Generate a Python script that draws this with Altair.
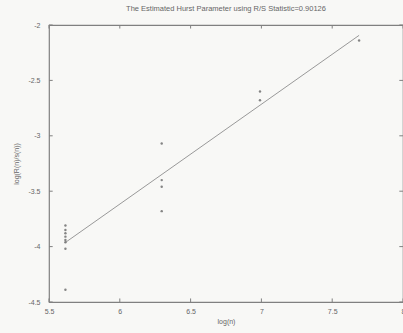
import altair as alt
import pandas as pd

# log(n) positions of the block sizes and the log(R(n)/s(n)) values measured at each
block_logn = [5.616, 6.296, 6.99, 7.69]
rs_block1 = [-3.81, -3.85, -3.88, -3.91, -3.94, -3.96, -4.02, -4.39]
rs_block2 = [-3.07, -3.40, -3.46, -3.68]
rs_block3 = [-2.60, -2.68]
rs_block4 = [-2.14]

# least-squares fit: slope is the Hurst estimate
hurst = 0.90126
intercept = -9.024

x_ticks = [5.5, 6, 6.5, 7, 7.5, 8]
y_ticks = [-4.5, -4, -3.5, -3, -2.5, -2]
x_lim = [5.5, 8]
y_lim = [-4.5, -2]

rows = []
for xv, ys in zip(block_logn, [rs_block1, rs_block2, rs_block3, rs_block4]):
    for yv in ys:
        rows.append({"logn": xv, "logrs": yv})
pts = pd.DataFrame(rows)

fit = pd.DataFrame({
    "logn": [block_logn[0], block_logn[-1]],
    "logrs": [hurst * block_logn[0] + intercept, hurst * block_logn[-1] + intercept],
})

FRAME = "#808080"
TEXT = "#666666"
FONT = "Liberation Sans"

xs = alt.Scale(domain=x_lim, nice=False, zero=False)
ys = alt.Scale(domain=y_lim, nice=False, zero=False)

xaxis = alt.Axis(values=x_ticks, labelExpr="datum.value + ''", ticks=False, tickSize=0,
                 grid=False, domain=False, labelPadding=5, titlePadding=3,
                 labelFontSize=7, titleFontSize=7, labelColor=TEXT, titleColor=TEXT,
                 labelFont=FONT, titleFont=FONT, titleFontWeight="normal",
                 labelFlush=False, labelOverlap=False)
yaxis = alt.Axis(values=y_ticks, labelExpr="datum.value + ''", ticks=False, tickSize=0,
                 grid=False, domain=False, labelPadding=9, titlePadding=8,
                 labelFontSize=7, titleFontSize=7, labelColor=TEXT, titleColor=TEXT,
                 labelFont=FONT, titleFont=FONT, titleFontWeight="normal",
                 labelFlush=False, labelOverlap=False)

points = alt.Chart(pts).mark_point(filled=True, size=6, color="#707070", opacity=0.85).encode(
    x=alt.X("logn:Q", scale=xs, axis=xaxis, title="log(n)"),
    y=alt.Y("logrs:Q", scale=ys, axis=yaxis, title="log(R(n)/s(n))"),
)

line = alt.Chart(fit).mark_line(color="#999999", strokeWidth=1).encode(
    x=alt.X("logn:Q", scale=xs), y=alt.Y("logrs:Q", scale=ys)
)

# inward tick marks on all four sides of the box
xt = pd.DataFrame({"v": x_ticks})
yt = pd.DataFrame({"v": y_ticks})
tx = 0.026
ty = 0.032
tick_style = dict(color=FRAME, strokeWidth=1)
bottom_ticks = alt.Chart(xt).mark_rule(**tick_style).encode(
    x=alt.X("v:Q", scale=xs), y=alt.datum(y_lim[0], scale=ys), y2=alt.datum(y_lim[0] + ty))
top_ticks = alt.Chart(xt).mark_rule(**tick_style).encode(
    x=alt.X("v:Q", scale=xs), y=alt.datum(y_lim[1], scale=ys), y2=alt.datum(y_lim[1] - ty))
left_ticks = alt.Chart(yt).mark_rule(**tick_style).encode(
    y=alt.Y("v:Q", scale=ys), x=alt.datum(x_lim[0], scale=xs), x2=alt.datum(x_lim[0] + tx))
right_ticks = alt.Chart(yt).mark_rule(**tick_style).encode(
    y=alt.Y("v:Q", scale=ys), x=alt.datum(x_lim[1], scale=xs), x2=alt.datum(x_lim[1] - tx))

chart = alt.layer(bottom_ticks, top_ticks, left_ticks, right_ticks, line, points).properties(
    width=354,
    height=277,
    title=alt.TitleParams("The Estimated Hurst Parameter using R/S Statistic=0.90126",
                          fontSize=7.5, font=FONT, fontWeight="normal", color=TEXT,
                          anchor="middle", offset=9),
    autosize=alt.AutoSizeParams(type="none"),
    padding={"left": 49, "top": 25, "right": 0, "bottom": 31},
    background="#f8f8f6",
).configure_view(stroke=FRAME, strokeWidth=1.2)

chart.save("out.html", embed_options={"renderer": "svg", "actions": False})
